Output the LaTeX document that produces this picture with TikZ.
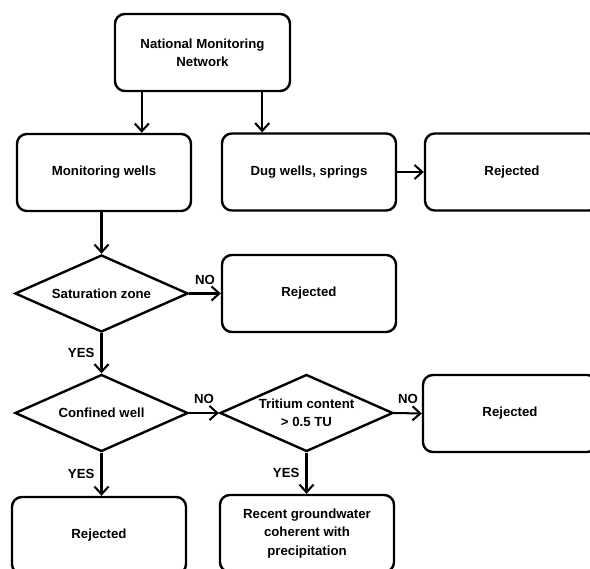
\documentclass[tikz,border=0pt]{standalone}
\usepackage{fontspec}
\setmainfont{Liberation Sans}
\usetikzlibrary{shapes.geometric, arrows.meta}

\begin{document}
\begin{tikzpicture}[x=0.025cm, y=-0.025cm,
    box/.style={draw, line width=1.7pt, rounded corners=7pt, minimum width=4.35cm, minimum height=1.925cm, align=center, font=\fontsize{9.4}{13}\selectfont\bfseries},
    decision/.style={draw, diamond, line width=1.7pt, minimum width=4.325cm, minimum height=1.925cm, inner sep=1pt, aspect=2.25, align=center, font=\fontsize{9.4}{13}\selectfont\bfseries},
    arr/.style={line width=1.45pt, -{Straight Barb[length=5.5pt, width=10pt]}},
    lbl/.style={font=\fontsize{9.4}{11}\selectfont\bfseries}]
    \useasboundingbox (0,0) rectangle (590,569);
    \fill[white] (0,0) rectangle (590,569);
    \clip (0,0) rectangle (590,569);
    % Caixas de cima:
    \node[box, minimum width=4.375cm] (n0) at (202.5,52.5) {National Monitoring\\Network};
    \node[box] (n1) at (104,172.5) {Monitoring wells};
    \node[box] (n2) at (309,172) {Dug wells, springs};
    \node[box] (n3) at (512,172) {Rejected};
    % Decisoes:
    \node[decision] (n4) at (101.5,293.5) {Saturation zone};
    \node[box] (n5) at (309,293.5) {Rejected};
    \node[decision] (n6) at (101.5,413) {Confined well};
    \node[decision] (n7) at (306.5,413) {Tritium content\\> 0.5 TU};
    \node[box] (n8) at (510,413.5) {Rejected};
    % Caixas de baixo:
    \node[box] (n9) at (99,535.5) {Rejected};
    \node[box] (n10) at (307,533.5) {Recent groundwater\\coherent with\\precipitation};
    % Setas:
    \draw[arr] ([xshift=0.7cm]n0.south west) -- ([xshift=0.7cm]n0.south west |- n1.north);
    \draw[arr] ([xshift=-0.725cm]n0.south east) -- ([xshift=-0.725cm]n0.south east |- n2.north);
    \draw[arr] (n2.east) -- (n3.west);
    \draw[arr] (n4.north |- n1.south) -- (n4.north);
    \draw[arr] (n4.east) -- node[lbl, above, yshift=2.5pt] {NO} (n5.west);
    \draw[arr] (n4.south) -- node[lbl, left, xshift=-1pt] {YES} (n6.north);
    \draw[arr] (n6.east) -- node[lbl, above, yshift=2.5pt] {NO} (n7.west);
    \draw[arr] (n7.east) -- node[lbl, above, yshift=2.5pt] {NO} (n8.west);
    \draw[arr] (n6.south) -- node[lbl, left, xshift=-1pt] {YES} (n6.south |- n9.north);
    \draw[arr] (n7.south) -- node[lbl, left, xshift=-1pt] {YES} (n7.south |- n10.north);
\end{tikzpicture}
\end{document}
